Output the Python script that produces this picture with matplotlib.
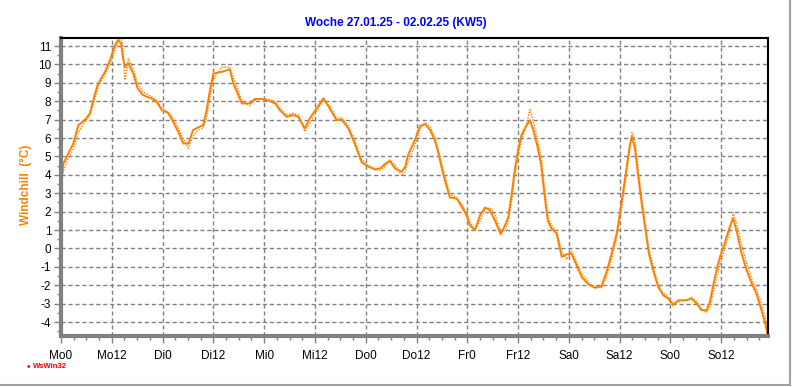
import matplotlib
matplotlib.use("Agg")
import matplotlib.pyplot as plt
from matplotlib.ticker import MultipleLocator

# hours since Monday 00:00
hours = [0.0, 0.55, 1.7, 2.9, 4.1, 5.7, 6.85, 8.0, 8.8, 10.4, 11.6, 12.75, 13.5,
         14.2, 14.6, 15.1, 15.9, 17.1, 18.1, 19.4, 21.4, 22.6, 23.8, 25.3, 26.5,
         27.7, 28.9, 30.1, 31.2, 32.4, 33.6, 34.4, 35.2, 36.0, 38.0, 39.9, 40.7,
         41.9, 42.7, 44.6, 45.8, 47.4, 49.0, 50.6, 51.7, 53.3, 54.9, 56.1, 57.6,
         58.8, 60.4, 62.0, 63.5, 65.1, 66.3, 67.9, 69.4, 71.0, 72.2, 74.2, 75.4,
         76.5, 77.7, 78.9, 80.5, 81.3, 82.0, 83.6, 84.8, 86.0, 87.2, 88.3, 89.1,
         89.9, 90.7, 91.9, 93.5, 94.7, 95.8, 96.6, 97.8, 99.0, 100.2, 101.3,
         102.5, 103.9, 104.9, 105.7, 106.5, 107.2, 108.0, 108.8, 109.8, 110.8,
         111.6, 112.6, 113.4, 114.2, 115.0, 115.9, 117.1, 118.3, 119.5, 120.6,
         121.8, 123.0, 124.6, 126.1, 127.7, 128.9, 130.1, 131.3, 132.4, 133.6,
         134.4, 134.9, 135.6, 136.4, 137.2, 138.0, 138.9, 139.9, 141.1, 142.3,
         143.5, 144.6, 145.8, 147.8, 149.0, 150.2, 151.3, 152.5, 153.3, 154.5,
         155.7, 156.8, 158.0, 158.8, 159.6, 160.8, 162.0, 163.2, 164.3, 165.5,
         166.4, 166.9]

windchill = [3.4, 4.6, 5.15, 5.7, 6.7, 7.0, 7.35, 8.4, 8.97, 9.6, 10.24, 11.05, 11.33,
             11.15, 10.4, 9.87, 10.06, 9.5, 8.7, 8.33, 8.15, 7.97, 7.52, 7.37, 6.88,
             6.34, 5.7, 5.7, 6.43, 6.58, 6.7, 7.52, 8.6, 9.5, 9.6, 9.73, 8.97,
             8.33, 7.88, 7.88, 8.12, 8.12, 8.03, 7.88, 7.52, 7.15, 7.25, 7.15, 6.52,
             7.07, 7.61, 8.16, 7.61, 6.97, 7.01, 6.52, 5.7, 4.7, 4.49, 4.29, 4.35,
             4.58, 4.76, 4.35, 4.16, 4.43, 5.07, 5.89, 6.65, 6.76, 6.43, 5.89, 5.25,
             4.43, 3.71, 2.77, 2.71, 2.26, 1.81, 1.26, 0.99, 1.81, 2.22, 2.08,
             1.53, 0.77, 1.26, 1.71, 2.99, 4.25, 5.34, 6.16, 6.61, 6.97,
             6.43, 5.52, 4.62, 2.99, 1.53, 1.08, 0.81, -0.46, -0.32, -0.28,
             -0.91, -1.55, -1.95, -2.13, -2.06, -1.28, -0.28, 0.81, 2.44, 4.35,
             5.61, 6.07, 5.43, 3.89, 2.44, 1.17, -0.28, -1.19, -2.09, -2.55,
             -2.73, -3.09, -2.82, -2.82, -2.73, -3.0, -3.36, -3.36, -2.91, -1.55,
             -0.46, 0.27, 1.17, 1.63, 0.99, -0.28, -1.19, -1.91, -2.45, -3.36,
             -4.09, -4.63]

windchill2 = [3.2, 4.2, 4.9, 5.4, 6.3, 6.9, 7.25, 8.1, 8.8, 9.45, 10.0, 10.8, 11.25,
              11.45, 11.0, 9.15, 10.3, 9.75, 8.95, 8.5, 8.25, 8.05, 7.65, 7.4, 7.1,
              6.55, 5.95, 5.45, 6.1, 6.45, 6.55, 7.1, 8.2, 9.2, 9.85, 9.85, 9.3,
              8.6, 8.0, 7.75, 8.05, 8.15, 8.1, 7.98, 7.65, 7.25, 7.35, 7.25, 6.35,
              6.8, 7.45, 8.05, 7.75, 7.1, 7.1, 6.65, 5.9, 4.85, 4.6, 4.3, 4.25,
              4.45, 4.8, 4.55, 3.95, 4.15, 4.7, 5.6, 6.45, 6.85, 6.6, 6.05, 5.45,
              4.65, 3.95, 2.95, 2.75, 2.4, 1.95, 1.45, 1.0, 1.5, 2.15, 2.2,
              1.85, 0.95, 0.95, 1.45, 2.6, 3.9, 5.0, 5.9, 6.55, 7.55,
              6.9, 5.9, 5.0, 3.4, 1.85, 1.25, 0.95, -0.15, -0.6, -0.15,
              -0.75, -1.35, -1.85, -2.15, -2.12, -1.55, -0.55, 0.55, 2.1, 4.0,
              5.45, 6.3, 5.9, 4.3, 2.8, 1.5, 0.0, -0.95, -1.95, -2.45,
              -2.65, -3.0, -2.9, -2.8, -2.65, -2.9, -3.25, -3.5, -3.2, -2.0,
              -0.9, -0.05, 0.9, 1.95, 1.4, 0.2, -0.8, -1.65, -2.25, -3.0,
              -3.75, -4.45]

xticks = [0, 12, 24, 36, 48, 60, 72, 84, 96, 108, 120, 132, 144, 156]
xlabels = ["Mo0", "Mo12", "Di0", "Di12", "Mi0", "Mi12", "Do0", "Do12",
           "Fr0", "Fr12", "Sa0", "Sa12", "So0", "So12"]

orange = "#FF8000"
grey = "#808080"

plt.rcParams["font.family"] = ["Liberation Sans", "DejaVu Sans"]

fig = plt.figure(figsize=(7.92, 3.87), dpi=100)
ax = fig.add_axes([0.077, 0.1318, 0.893, 0.7692])

ax.plot(hours, windchill2, color=orange, lw=1.0, ls=(0, (1, 1)))
ax.plot(hours, windchill, color=orange, lw=1.4)

ax.set_xlim(0, 167.1)
ax.set_ylim(-4.76, 11.42)
ax.set_xticks(xticks)
ax.set_xticklabels(xlabels, fontsize=8.5)
ax.xaxis.set_minor_locator(MultipleLocator(3))
ax.set_yticks(range(-4, 12))
ax.set_yticklabels([str(v) for v in range(-4, 12)], fontsize=8.5)
ax.yaxis.set_minor_locator(MultipleLocator(0.5))

ax.grid(True, which="major", color=grey, ls=(0, (3, 2)), lw=1)
ax.tick_params(axis="both", which="major", length=5, width=1, color=grey, pad=2)
ax.tick_params(axis="both", which="minor", length=3, width=1, color=grey)
ax.tick_params(axis="x", pad=5)

ax.spines["left"].set_color(grey)
ax.spines["left"].set_linewidth(3)
ax.spines["bottom"].set_color(grey)
ax.spines["bottom"].set_linewidth(3)
ax.spines["top"].set_color("black")
ax.spines["top"].set_linewidth(1.5)
ax.spines["right"].set_color("black")
ax.spines["right"].set_linewidth(1.5)

ax.set_ylabel("Windchill  (°C)", color=orange, fontsize=8.5, fontweight="bold")
ax.yaxis.set_label_coords(-0.041, 0.507)

fig.text(0.5, 0.94, "Woche 27.01.25 - 02.02.25 (KW5)", color="#0000FF",
         fontsize=8.5, fontweight="bold", ha="center", va="center")
fig.text(0.042, 0.052, "WsWin32", color="#FF0000", fontsize=5.5,
         fontweight="bold", ha="left", va="center")
fig.text(0.034, 0.052, "\u2022", color="#FF0000", fontsize=7, ha="left", va="center")

# grey frame at right and bottom of the image
fig.add_artist(plt.Line2D([0.997, 0.997], [0.005, 1.0], color="#A0A0A0", lw=1.5))
fig.add_artist(plt.Line2D([0.0, 0.997], [0.005, 0.005], color="#A0A0A0", lw=1.5))

fig.savefig("out.png", dpi=100)
